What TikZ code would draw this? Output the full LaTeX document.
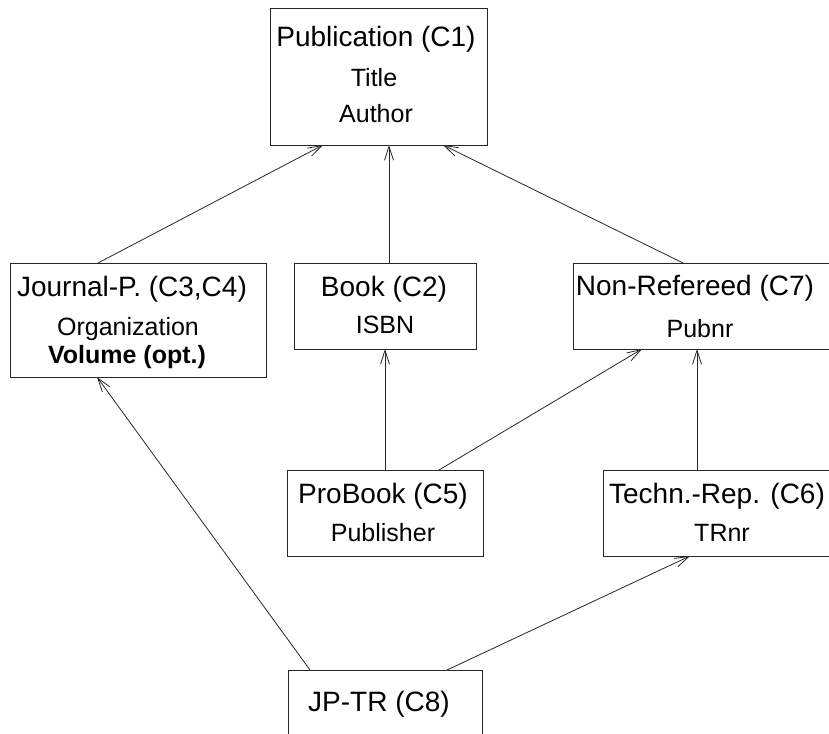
\documentclass[tikz,border=0pt]{standalone}
\usepackage{fontspec}
\setmainfont{Liberation Sans}
\usetikzlibrary{arrows.meta}
\begin{document}
\begin{tikzpicture}[x=1pt,y=-1pt,
  box/.style={draw=black!85,line width=1pt,rectangle,inner sep=0pt,outer sep=0pt},
  ttl/.style={anchor=base,inner sep=0pt,font=\fontsize{28}{32}\selectfont},
  attr/.style={anchor=base,inner sep=0pt,font=\fontsize{25}{29}\selectfont},
  isa/.style={draw=black!85,line width=0.8pt,-{Straight Barb[length=14pt,width=9pt]}}]
\clip (0,0) rectangle (829,733);
% boxes
\node[box,minimum width=217pt,minimum height=136pt] (c1) at (378.5,77) {};
\node[box,minimum width=256pt,minimum height=114pt] (c34) at (138,320) {};
\node[box,minimum width=182pt,minimum height=86pt] (c2) at (385,306) {};
\node[box,minimum width=266pt,minimum height=86pt] (c7) at (706,306) {};
\node[box,minimum width=196pt,minimum height=86pt] (c5) at (385,513) {};
\node[box,minimum width=236pt,minimum height=86pt] (c6) at (721,513) {};
\node[box,minimum width=194pt,minimum height=90pt] (c8) at (385,715) {};
% texts
\node[ttl] (c1a) at (376,47) {Publication (C1)};
\node[attr] (c1b) at (374,87) {Title};
\node[attr] (c1c) at (376,123) {Author};
\node[ttl] (c34a) at (132,296) {Journal-P. (C3,C4)};
\node[attr] (c34b) at (128,335) {Organization};
\node[attr,font=\fontsize{25}{29}\selectfont\bfseries] (c34c) at (127,363) {Volume (opt.)};
\node[ttl] (c2a) at (384,296) {Book (C2)};
\node[attr] (c2b) at (385,333) {ISBN};
\node[ttl] (c7a) at (695,295) {Non-Refereed (C7)};
\node[attr] (c7b) at (700,337) {Pubnr};
\node[ttl] (c5a) at (383,503) {ProBook (C5)};
\node[attr] (c5b) at (383,541) {Publisher};
\node[ttl] (c6a) at (717,503) {Techn.-Rep. (C6)};
\node[attr] (c6b) at (722,541) {TRnr};
\node[ttl] (c8a) at (379,711) {JP-TR (C8)};
% connectors
\draw[isa] ([xshift=88pt]c34.north west) -- ([xshift=53pt]c1.south west);
\draw[isa] ([xshift=95pt]c2.north west) -- ([xshift=119pt]c1.south west);
\draw[isa] ([xshift=110pt]c7.north west) -- ([xshift=173pt]c1.south west);
\draw[isa] ([xshift=98pt]c5.north west) -- ([xshift=91pt]c2.south west);
\draw[isa] ([xshift=152pt]c5.north west) -- ([xshift=69pt]c7.south west);
\draw[isa] ([xshift=94pt]c6.north west) -- ([xshift=124pt]c7.south west);
\draw[isa] ([xshift=22pt]c8.north west) -- ([xshift=87pt]c34.south west);
\draw[isa] ([xshift=159pt]c8.north west) -- ([xshift=87pt]c6.south west);
\end{tikzpicture}
\end{document}
